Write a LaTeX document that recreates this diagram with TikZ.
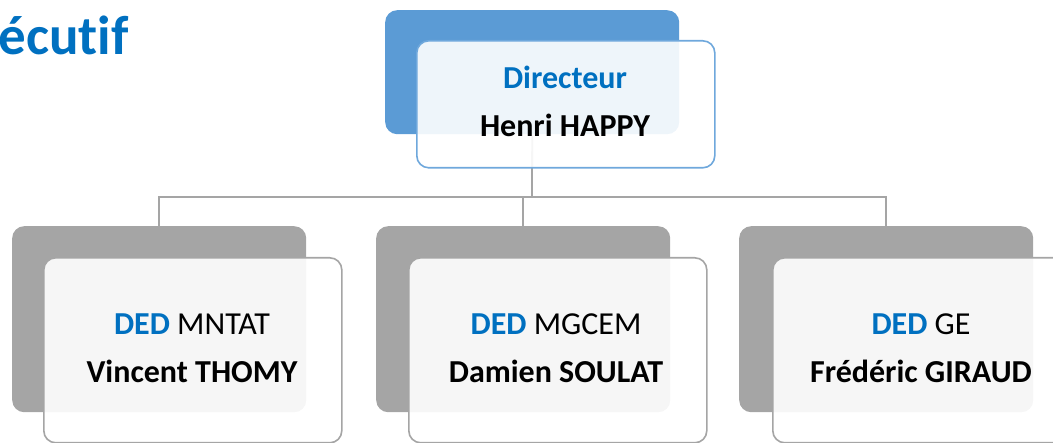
\documentclass[tikz,border=0pt]{standalone}
\usepackage{fontspec}
\setmainfont{Carlito}[Ligatures={NoCommon}]
\definecolor{dirblue}{HTML}{5B9BD5}
\definecolor{dirline}{HTML}{6FA8DC}
\definecolor{txtblue}{HTML}{0070C0}
\definecolor{boxgray}{HTML}{A5A5A5}
\pgfdeclarelayer{background}
\pgfsetlayers{background,main}
\begin{document}
\begin{tikzpicture}[x=1pt,y=-1pt,
  backbox/.style={rectangle, rounded corners=12pt, minimum width=294pt, anchor=north west, inner sep=0pt},
  frontbox/.style={rectangle, rounded corners=12pt, fill=white, fill opacity=0.9, line width=1.6pt, minimum width=298pt, anchor=north west, inner sep=0pt},
  conn/.style={draw=boxgray, line width=1.8pt},
  txt/.style={anchor=base, font=\fontsize{32}{38}\selectfont, inner sep=0pt},
  btxt/.style={txt, font=\bfseries\fontsize{32}{38}\selectfont}]
\useasboundingbox (0,0) rectangle (1053,443);
\begin{scope}
\clip (0,0) rectangle (1053,443);
% title
\node[anchor=base east, inner sep=0pt, text=txtblue, font=\bfseries\fontsize{55}{62}\selectfont] (title) at (129,55) {écutif};
% back boxes
\node[backbox, fill=dirblue, minimum height=124pt] (dirB) at (385,10) {};
\node[backbox, fill=boxgray, minimum height=186pt] (c1B) at (12,226) {};
\node[backbox, fill=boxgray, minimum height=186pt] (c2B) at (376,226) {};
\node[backbox, fill=boxgray, minimum height=186pt] (c3B) at (739,226) {};
% connectors
\coordinate (hub) at (532,197);
\begin{pgfonlayer}{background}
\draw[conn] (dirB.south) -- (hub);
\draw[conn] (hub) -| (c1B.north);
\draw[conn] (hub) -| (c2B.north);
\draw[conn] (hub) -| (c3B.north);
\end{pgfonlayer}
% front boxes
\node[frontbox, draw=dirline, minimum height=127pt] (dirF) at (416,40) {};
\node[frontbox, draw=boxgray, minimum height=185pt] (c1F) at (43,257) {};
\node[frontbox, draw=boxgray, minimum height=185pt] (c2F) at (408,257) {};
\node[frontbox, draw=boxgray, minimum height=185pt] (c3F) at (772,257) {};
% texts
\node[btxt, text=txtblue] (dirT1) at (565,89) {Directeur};
\node[btxt] (dirT2) at (565,137) {Henri HAPPY};
\node[txt] (c1T1) at (192,335) {\textbf{\textcolor{txtblue}{DED}} MNTAT};
\node[btxt] (c1T2) at (192,383) {Vincent THOMY};
\node[txt] (c2T1) at (556,335) {\textbf{\textcolor{txtblue}{DED}} MGCEM};
\node[btxt] (c2T2) at (556,383) {Damien SOULAT};
\node[txt] (c3T1) at (921,335) {\textbf{\textcolor{txtblue}{DED}} GE};
\node[btxt] (c3T2) at (921,383) {Frédéric GIRAUD};
\end{scope}
\end{tikzpicture}
\end{document}
